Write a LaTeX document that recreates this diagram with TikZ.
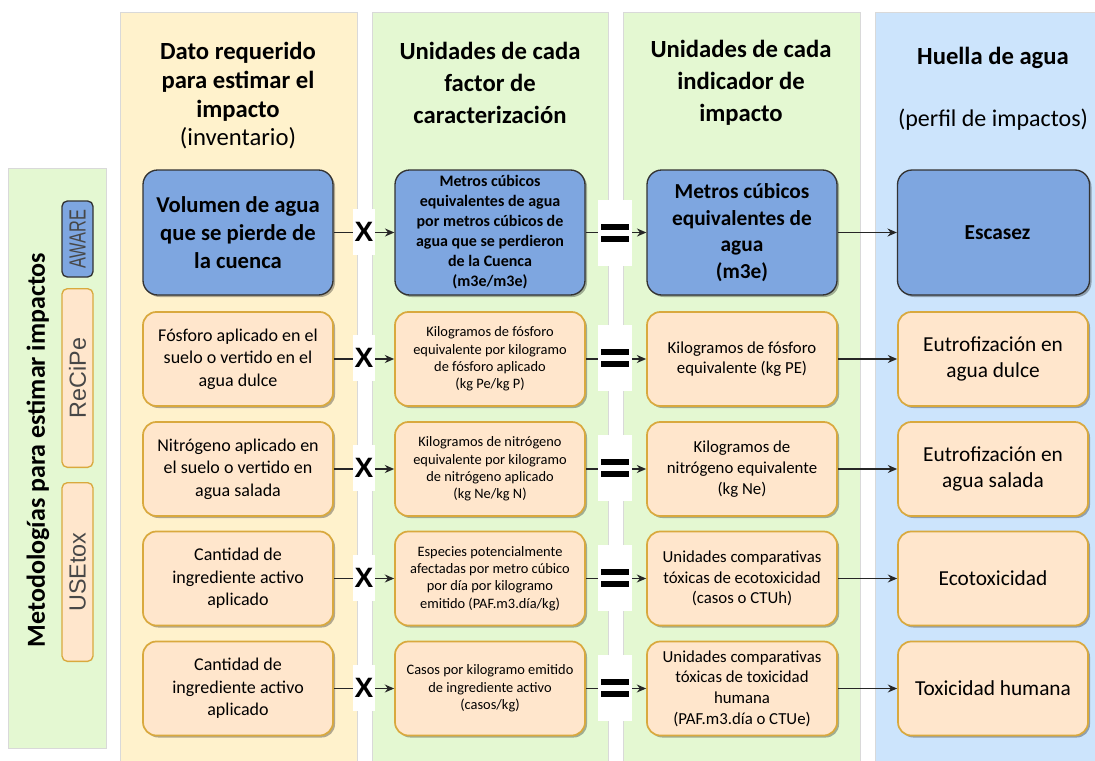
\documentclass[tikz,border=0pt]{standalone}
\usepackage{fontspec}
\setmainfont{Carlito}
\newfontfamily\arialf{Liberation Sans}
\usetikzlibrary{arrows.meta,shadows}
\definecolor{bgyellow}{HTML}{FFF2CC}
\definecolor{bggreen}{HTML}{E4F8D2}
\definecolor{bgblue}{HTML}{CCE4FC}
\definecolor{boxblue}{HTML}{7EA6E0}
\definecolor{boxorange}{HTML}{FFE6CC}
\definecolor{boxgold}{HTML}{D9A93E}
\definecolor{bluedraw}{HTML}{333333}
\tikzset{
  colbg/.style={draw=black!15, line width=0.6pt},
  shad/.style={drop shadow={shadow xshift=1.5pt, shadow yshift=-1.5pt, opacity=0.3, fill=black}},
  bbox/.style={shad, rounded corners=11pt, fill=boxblue, draw=bluedraw, line width=1pt,
    minimum width=142.5pt, minimum height=93.75pt, align=center, inner sep=0pt},
  obox/.style={shad, rounded corners=10pt, fill=boxorange, draw=boxgold, line width=1.3pt,
    minimum width=142.5pt, minimum height=70.5pt, align=center, inner sep=0pt},
  mbox/.style={rotate=90, rounded corners=4pt, line width=1pt, minimum height=23.25pt,
    inner sep=0pt, font=\arialf\fontsize{17.5}{17.5}\selectfont, text=black!72},
  xsym/.style={fill=white, minimum width=16.5pt, inner sep=0pt,
    font=\arialf\bfseries\fontsize{21}{21}\selectfont},
  eqsym/.style={fill=white, minimum width=25.5pt, inner sep=0pt,
    path picture={
      \fill[black] ([xshift=-10.5pt,yshift=1.9pt]path picture bounding box.center) rectangle ++(21pt,4.5pt);
      \fill[black] ([xshift=-10.5pt,yshift=-1.9pt]path picture bounding box.center) rectangle ++(21pt,-4.5pt);
    }},
  conn/.style={line width=1pt, draw=black!85},
  arr/.style={conn, -{Stealth[length=7pt,width=6pt]}},
  hdr/.style={align=center, font=\bfseries\fontsize{18.5}{24}\selectfont},
  f1b/.style={font=\bfseries\fontsize{17}{21}\selectfont},
  f2b/.style={font=\bfseries\fontsize{12}{15}\selectfont},
  f3b/.style={font=\bfseries\fontsize{16}{20}\selectfont},
  f1/.style={font=\fontsize{13.5}{17}\selectfont},
  f2/.style={font=\fontsize{10.8}{13}\selectfont},
  f3/.style={font=\fontsize{12.6}{15.5}\selectfont},
  f4/.style={font=\fontsize{16}{20}\selectfont},
}
\begin{document}
\begin{tikzpicture}[x=0.75pt,y=-0.75pt]
\useasboundingbox (0,0) rectangle (1095,760);
\fill[white] (0,0) rectangle (1095,760);
% backgrounds
\filldraw[colbg, fill=bggreen] (8,168) rectangle (106,748);
\filldraw[colbg, fill=bgyellow] (120,12) rectangle (357,762);
\filldraw[colbg, fill=bggreen] (372,12) rectangle (608,762);
\filldraw[colbg, fill=bggreen] (623,12) rectangle (860,762);
\filldraw[colbg, fill=bgblue] (875,12) rectangle (1097,762);

% headers
\node[hdr, font=\bfseries\fontsize{18.5}{21.5}\selectfont] (h1) at (238,96) {Dato requerido\\para estimar el\\impacto\\\mdseries (inventario)};
\node[hdr] (h2) at (490,83) {Unidades de cada\\factor de\\caracterización};
\node[hdr] (h3) at (741,83) {Unidades de cada\\indicador de\\impacto};
\node[hdr] (h4a) at (993,58) {Huella de agua};
\node[hdr, font=\fontsize{18}{22}\selectfont] (h4b) at (993,120) {(perfil de impactos)};

% left panel
\node[rotate=90, font=\bfseries\fontsize{19.5}{20}\selectfont] (mtitle) at (38,450) {Metodologías para estimar impactos};
\node[mbox, fill=boxblue, draw=bluedraw, minimum width=57pt] (maware) at (77.5,239) {\scalebox{0.7}[1]{AWARE}};
\node[mbox, fill=boxorange, draw=boxgold, minimum width=134pt] (mrecipe) at (77.5,378) {ReCiPe};
\node[mbox, fill=boxorange, draw=boxgold, minimum width=134pt] (musetox) at (77.5,572) {USEtox};

% row 1
\node[bbox, f1b] (c1r1) at (238,232.5) {Volumen de agua\\que se pierde de\\la cuenca};
\node[bbox, f2b] (c2r1) at (490,232.5) {Metros cúbicos\\equivalentes de agua\\por metros cúbicos de\\agua que se perdieron\\de la Cuenca\\(m3e/m3e)};
\node[bbox, f3b] (c3r1) at (742,232.5) {Metros cúbicos\\equivalentes de\\agua\\(m3e)};
\node[bbox, f3b, minimum width=144pt] (c4r1) at (993.5,232.5) {\hspace*{6pt}Escasez};
\node[xsym, minimum height=34pt] (x1) at (364,232) {X};
\node[eqsym, minimum height=50pt] (e1) at (615,233) {};

% row 2
\node[obox, f1] (c1r2) at (238,359) {Fósforo aplicado en el\\suelo o vertido en el\\agua dulce};
\node[obox, f2] (c2r2) at (490,359) {Kilogramos de fósforo\\equivalente por kilogramo\\de fósforo aplicado\\(kg Pe/kg P)};
\node[obox, f3] (c3r2) at (742,359) {Kilogramos de fósforo\\equivalente (kg PE)};
\node[obox, f4, minimum width=142.5pt] (c4r2) at (993,359) {Eutrofización en\\agua dulce};
\node[xsym, minimum height=35pt] (x2) at (364,358) {X};
\node[eqsym, minimum height=50pt] (e2) at (615,358) {};

% row 3
\node[obox, f1] (c1r3) at (238,469) {Nitrógeno aplicado en\\el suelo o vertido en\\agua salada};
\node[obox, f2] (c2r3) at (490,469) {Kilogramos de nitrógeno\\equivalente por kilogramo\\de nitrógeno aplicado\\(kg Ne/kg N)};
\node[obox, f3] (c3r3) at (742,469) {Kilogramos de\\nitrógeno equivalente\\(kg Ne)};
\node[obox, f4] (c4r3) at (993,469) {Eutrofización en\\agua salada};
\node[xsym, minimum height=35pt] (x3) at (364,468) {X};
\node[eqsym, minimum height=50pt] (e3) at (615,468) {};

% row 4
\node[obox, f1] (c1r4) at (238,578.5) {Cantidad de\\ingrediente activo\\aplicado};
\node[obox, f2] (c2r4) at (490,578.5) {Especies potencialmente\\afectadas por metro cúbico\\por día por kilogramo\\emitido (PAF.m3.día/kg)};
\node[obox, f3] (c3r4) at (742,578.5) {Unidades comparativas\\tóxicas de ecotoxicidad\\(casos o CTUh)};
\node[obox, f4] (c4r4) at (993,578.5) {Ecotoxicidad};
\node[xsym, minimum height=35pt] (x4) at (364,578) {X};
\node[eqsym, minimum height=50pt] (e4) at (615,578) {};

% row 5
\node[obox, f1] (c1r5) at (238,688.5) {Cantidad de\\ingrediente activo\\aplicado};
\node[obox, f2] (c2r5) at (490,688.5) {Casos por kilogramo emitido\\de ingrediente activo\\(casos/kg)};
\node[obox, f3] (c3r5) at (742,688.5) {Unidades comparativas\\tóxicas de toxicidad\\humana\\(PAF.m3.día o CTUe)};
\node[obox, f4] (c4r5) at (993,688.5) {Toxicidad humana};
\node[xsym, minimum height=35pt] (x5) at (364,688) {X};
\node[eqsym, minimum height=50pt] (e5) at (615,688) {};

% connectors
\foreach \r in {1,...,5}{
  \draw[conn] (c1r\r.east) -- (x\r.west |- c1r\r.east);
  \draw[arr] (x\r.east |- c2r\r.west) -- (c2r\r.west);
  \draw[conn] (c2r\r.east) -- (e\r.west |- c2r\r.east);
  \draw[arr] (e\r.east |- c3r\r.west) -- (c3r\r.west);
  \draw[arr] (c3r\r.east) -- (c4r\r.west);
}
\end{tikzpicture}
\end{document}
